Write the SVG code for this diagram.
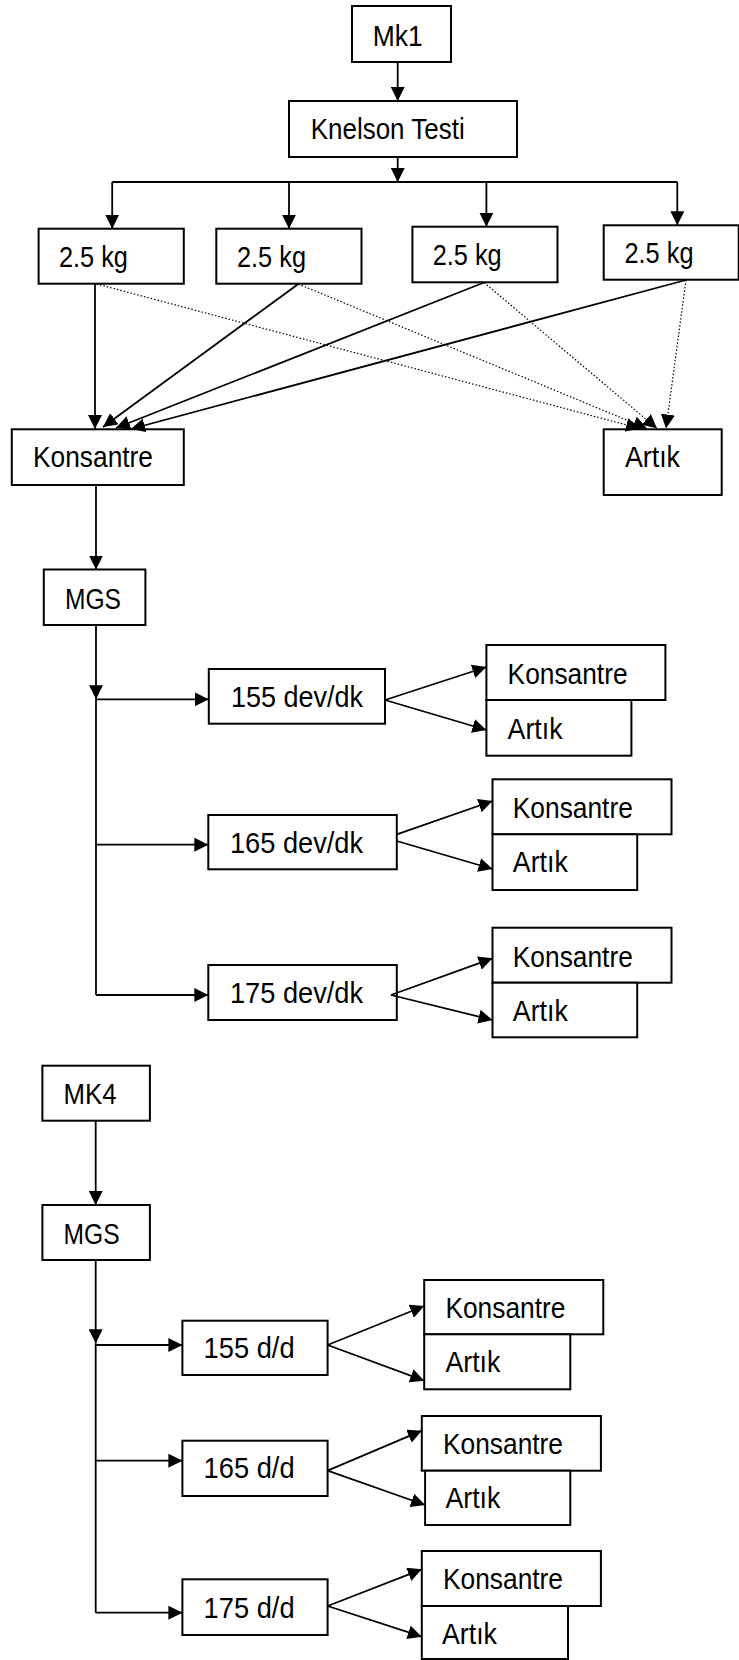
<svg xmlns="http://www.w3.org/2000/svg" width="739" height="1660" viewBox="0 0 739 1660">
<style>
.b{fill:#fff;stroke:#000;stroke-width:2}
.t{font-family:"Liberation Sans Narrow","Liberation Sans",Arial,sans-serif;font-size:30px;fill:#000}
.c{fill:none;stroke:#000;stroke-width:1.8}
.a{marker-end:url(#ah)}
.d{fill:none;stroke:#000;stroke-width:1.2;stroke-dasharray:1.5 2;marker-end:url(#ah)}
</style>
<defs>
<marker id="ah" markerUnits="userSpaceOnUse" markerWidth="15" markerHeight="14" refX="14" refY="7" orient="auto" viewBox="0 0 15 14">
<path d="M0,0 L14,7 L0,14 z" fill="#000"/>
</marker>
</defs>
<rect width="739" height="1660" fill="#fff"/>
<g id="mk1"><rect class="b" x="352" y="6" width="99" height="56"/><text class="t" x="372.7" y="45.7" textLength="50" lengthAdjust="spacingAndGlyphs">Mk1</text></g>
<g id="knelson"><rect class="b" x="289" y="101" width="228" height="56"/><text class="t" x="310.7" y="139.3" textLength="154" lengthAdjust="spacingAndGlyphs">Knelson Testi</text></g>
<g id="kg1"><rect class="b" x="38.6" y="228.7" width="145.2" height="55"/><text class="t" x="58.9" y="266.7" textLength="69" lengthAdjust="spacingAndGlyphs">2.5 kg</text></g>
<g id="kg2"><rect class="b" x="216.3" y="228.7" width="145.2" height="55"/><text class="t" x="237" y="266.7" textLength="69" lengthAdjust="spacingAndGlyphs">2.5 kg</text></g>
<g id="kg3"><rect class="b" x="412.4" y="226.7" width="145.1" height="55.6"/><text class="t" x="432.7" y="264.7" textLength="69" lengthAdjust="spacingAndGlyphs">2.5 kg</text></g>
<g id="kg4"><rect class="b" x="603.7" y="225.3" width="135" height="54.4"/><text class="t" x="624.5" y="263.3" textLength="69" lengthAdjust="spacingAndGlyphs">2.5 kg</text></g>
<g id="konsantre"><rect class="b" x="11.8" y="429.3" width="172" height="55.7"/><text class="t" x="33" y="466.7" textLength="120" lengthAdjust="spacingAndGlyphs">Konsantre</text></g>
<g id="artik"><rect class="b" x="603.7" y="429.3" width="118" height="65.7"/><text class="t" x="625" y="466.7" textLength="55" lengthAdjust="spacingAndGlyphs">Artık</text></g>
<g id="mgs1"><rect class="b" x="43.8" y="569.5" width="101.6" height="55.5"/><text class="t" x="65" y="609" textLength="56" lengthAdjust="spacingAndGlyphs">MGS</text></g>
<g id="r155"><rect class="b" x="208.8" y="669" width="176.2" height="54.7"/><text class="t" x="231" y="706.7" textLength="132" lengthAdjust="spacingAndGlyphs">155 dev/dk</text></g>
<g id="k155"><rect class="b" x="486.4" y="645" width="179" height="55"/><text class="t" x="507.6" y="684.3" textLength="120" lengthAdjust="spacingAndGlyphs">Konsantre</text></g>
<g id="a155"><rect class="b" x="486.4" y="700" width="145" height="55.7"/><text class="t" x="507.6" y="739.3" textLength="55" lengthAdjust="spacingAndGlyphs">Artık</text></g>
<g id="r165"><rect class="b" x="208.3" y="815" width="188.5" height="54.3"/><text class="t" x="230" y="853.3" textLength="133" lengthAdjust="spacingAndGlyphs">165 dev/dk</text></g>
<g id="k165"><rect class="b" x="492.5" y="779.3" width="179" height="55"/><text class="t" x="512.8" y="818.3" textLength="120" lengthAdjust="spacingAndGlyphs">Konsantre</text></g>
<g id="a165"><rect class="b" x="492.5" y="834.3" width="144.7" height="55.7"/><text class="t" x="512.8" y="872.3" textLength="55" lengthAdjust="spacingAndGlyphs">Artık</text></g>
<g id="r175"><rect class="b" x="208.3" y="965" width="188.5" height="55"/><text class="t" x="230" y="1002.7" textLength="133" lengthAdjust="spacingAndGlyphs">175 dev/dk</text></g>
<g id="k175"><rect class="b" x="492.5" y="927.7" width="179" height="55"/><text class="t" x="512.8" y="966.7" textLength="120" lengthAdjust="spacingAndGlyphs">Konsantre</text></g>
<g id="a175"><rect class="b" x="492.5" y="982.7" width="144.7" height="54.6"/><text class="t" x="512.8" y="1020.7" textLength="55" lengthAdjust="spacingAndGlyphs">Artık</text></g>
<g id="mk4"><rect class="b" x="42.4" y="1065.7" width="107.5" height="55"/><text class="t" x="63.6" y="1104.3" textLength="53" lengthAdjust="spacingAndGlyphs">MK4</text></g>
<g id="mgs2"><rect class="b" x="42.4" y="1205" width="107.5" height="55"/><text class="t" x="63.6" y="1244.3" textLength="56" lengthAdjust="spacingAndGlyphs">MGS</text></g>
<g id="d155"><rect class="b" x="182.4" y="1320.7" width="145.2" height="54.3"/><text class="t" x="203.6" y="1358.3" textLength="91" lengthAdjust="spacingAndGlyphs">155 d/d</text></g>
<g id="dk155"><rect class="b" x="424.2" y="1280" width="179.1" height="54.3"/><text class="t" x="445.4" y="1318.3" textLength="120" lengthAdjust="spacingAndGlyphs">Konsantre</text></g>
<g id="da155"><rect class="b" x="424.2" y="1334.3" width="146.1" height="55"/><text class="t" x="445.4" y="1371.7" textLength="55" lengthAdjust="spacingAndGlyphs">Artık</text></g>
<g id="d165"><rect class="b" x="182.4" y="1440.7" width="145.2" height="55.3"/><text class="t" x="203.6" y="1478.3" textLength="91" lengthAdjust="spacingAndGlyphs">165 d/d</text></g>
<g id="dk165"><rect class="b" x="421.8" y="1416" width="179.1" height="54.7"/><text class="t" x="443" y="1454.3" textLength="120" lengthAdjust="spacingAndGlyphs">Konsantre</text></g>
<g id="da165"><rect class="b" x="425.1" y="1470.7" width="145.2" height="54.3"/><text class="t" x="445.4" y="1508.3" textLength="55" lengthAdjust="spacingAndGlyphs">Artık</text></g>
<g id="d175"><rect class="b" x="182.4" y="1579.3" width="145.2" height="55.7"/><text class="t" x="203.6" y="1618.3" textLength="91" lengthAdjust="spacingAndGlyphs">175 d/d</text></g>
<g id="dk175"><rect class="b" x="421.8" y="1551" width="179.1" height="55"/><text class="t" x="443" y="1589.3" textLength="120" lengthAdjust="spacingAndGlyphs">Konsantre</text></g>
<g id="da175"><rect class="b" x="421.8" y="1606" width="146.2" height="53"/><text class="t" x="442" y="1644" textLength="55" lengthAdjust="spacingAndGlyphs">Artık</text></g>
<g id="connectors">
<path class="c a" d="M397.7,62 V101"/>
<path class="c a" d="M397.7,157 V182"/>
<path class="c" d="M112.2,182 H677.3"/>
<path class="c a" d="M112.2,182 V228.7"/>
<path class="c a" d="M289,182 V228.7"/>
<path class="c a" d="M486.4,182 V226.7"/>
<path class="c a" d="M677.3,182 V225.3"/>
<path class="c a" d="M95,284 V429"/>
<path class="c a" d="M298.3,284 L103,427"/>
<path class="c a" d="M484,282.5 L116,428"/>
<path class="c a" d="M686,280 L131,429"/>
<path class="d" d="M96.6,284 L640,428.5"/>
<path class="d" d="M298.3,284 L647,428.5"/>
<path class="d" d="M484,282.5 L657,428.5"/>
<path class="d" d="M686,280 L666,428.5"/>
<path class="c a" d="M96,485 V569.5"/>
<path class="c a" d="M96,625 V699.3"/>
<path class="c" d="M96,699.3 V995"/>
<path class="c a" d="M96,699.3 H208.8"/>
<path class="c a" d="M96,844.7 H208.3"/>
<path class="c a" d="M96,995 H208.3"/>
<path class="c a" d="M385,700 L486.4,667"/>
<path class="c a" d="M385,700 L486.4,730"/>
<path class="c a" d="M396.8,834.3 L492.5,801"/>
<path class="c a" d="M396.8,841 L492.5,869"/>
<path class="c a" d="M391,995 L492.5,958.3"/>
<path class="c a" d="M391,995 L492.5,1020"/>
<path class="c a" d="M95.7,1120.7 V1205"/>
<path class="c a" d="M95.7,1260 V1343.3"/>
<path class="c" d="M95.7,1343.3 V1612.7"/>
<path class="c a" d="M95.7,1345 H182.4"/>
<path class="c a" d="M95.7,1460.7 H182.4"/>
<path class="c a" d="M95.7,1612.7 H182.4"/>
<path class="c a" d="M327.6,1345 L424.2,1306"/>
<path class="c a" d="M327.6,1345 L424.2,1380.7"/>
<path class="c a" d="M327.6,1470.7 L421.8,1430.7"/>
<path class="c a" d="M327.6,1470.7 L425.1,1505"/>
<path class="c a" d="M327.6,1606 L421.8,1569.3"/>
<path class="c a" d="M327.6,1606 L421.8,1636.7"/>
</g>
</svg>
